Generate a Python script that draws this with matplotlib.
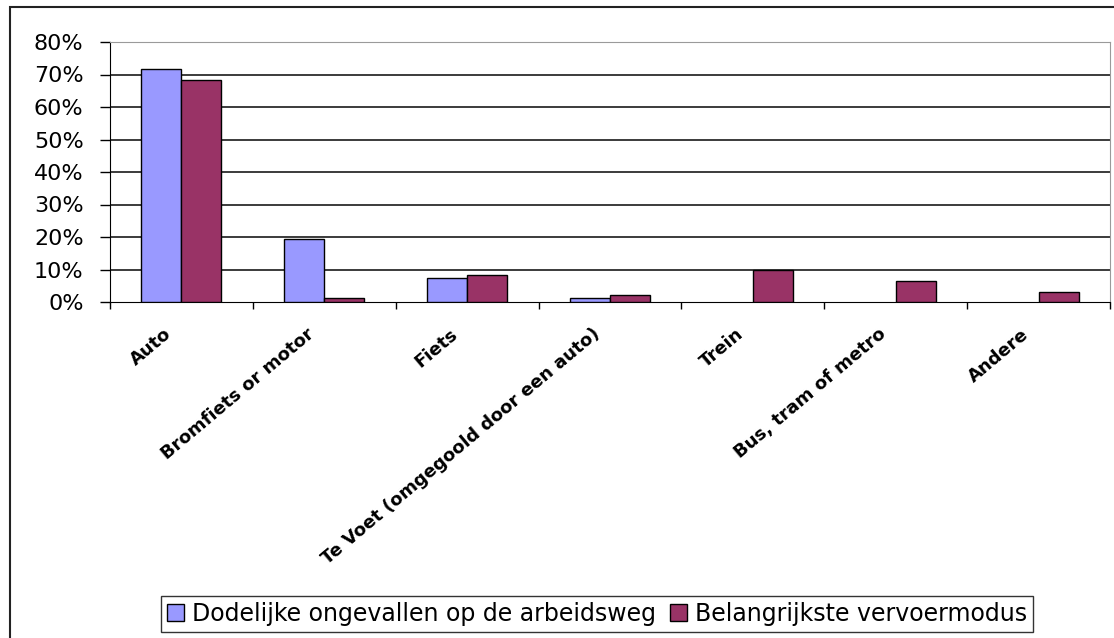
import numpy as np
from matplotlib import pyplot as plt
from matplotlib import patches
from matplotlib import transforms
from matplotlib.patches import Patch

categories = ["Auto", "Bromfiets or motor", "Fiets", "Te Voet (omgegoold door een auto)",
              "Trein", "Bus, tram of metro", "Andere"]
dodelijk = [71.8, 19.4, 7.3, 1.3, 0.0, 0.0, 0.0]
vervoer = [68.2, 1.2, 8.2, 2.2, 10.0, 6.4, 3.2]
series_names = ["Dodelijke ongevallen op de arbeidsweg", "Belangrijkste vervoermodus"]
yticks = [0, 10, 20, 30, 40, 50, 60, 70, 80]

BLUE = "#9999FF"
PLUM = "#993366"

W, H = 1114, 638
fig = plt.figure(figsize=(W / 100, H / 100), dpi=100)
plt.rcParams['font.family'] = ['DejaVu Sans']

# outer chart border (runs off the right/bottom of the picture)
fig.patches.append(patches.Rectangle((10 / W, -0.1), 1.2, (H - 7) / H + 0.1,
                                     transform=fig.transFigure, fill=False,
                                     ec="#222222", lw=1.5))

ax = fig.add_axes([110 / W, 1 - 302 / H, 1000 / W, 260 / H])

x = np.arange(len(categories))
bw = 0.28
ax.bar(x - bw / 2, dodelijk, bw, color=BLUE,
       ec=["black" if v > 0 else "none" for v in dodelijk], lw=1, zorder=3)
ax.bar(x + bw / 2, vervoer, bw, color=PLUM,
       ec=["black" if v > 0 else "none" for v in vervoer], lw=1, zorder=3)

ax.set_xlim(-0.5, len(categories) - 0.5)
ax.set_ylim(0, 80)

# gridlines
for v in yticks[1:-1]:
    ax.axhline(v, color="#1a1a1a", lw=1.2, zorder=1)

ax.set_yticks(yticks)
ax.set_yticklabels([f"{v}%" for v in yticks], fontsize=16)
ax.tick_params(axis='y', direction='out', length=7, width=1, pad=12)

# category boundary ticks, labels placed by hand under each category centre
ax.set_xticks(np.arange(len(categories) + 1) - 0.5)
ax.set_xticklabels([])
ax.tick_params(axis='x', which='major', direction='out', length=5, width=1)

shift = transforms.ScaledTranslation(-12 / 100, -30 / 100, fig.dpi_scale_trans)
for xi, lab in zip(x, categories):
    ax.text(xi, 0, lab, transform=ax.get_xaxis_transform() + shift,
            rotation=40, rotation_mode='anchor', ha='right', va='center',
            fontsize=13, fontweight='bold')

ax.spines['top'].set_color("#9a9a9a")
ax.spines['right'].set_color("#9a9a9a")
ax.spines['left'].set_color("black")
ax.spines['bottom'].set_color("black")

handles = [Patch(fc=BLUE, ec="black", lw=1), Patch(fc=PLUM, ec="black", lw=1)]
leg = fig.legend(handles, series_names, loc='center',
                 bbox_to_anchor=(597 / W, 1 - 614 / H), ncol=2,
                 fontsize=17, frameon=True, fancybox=False, edgecolor="black",
                 handlelength=0.7, handleheight=0.7, handletextpad=0.35,
                 columnspacing=0.6, borderpad=0.25, borderaxespad=0)
leg.get_frame().set_linewidth(1)

fig.savefig("out.png", dpi=100)
